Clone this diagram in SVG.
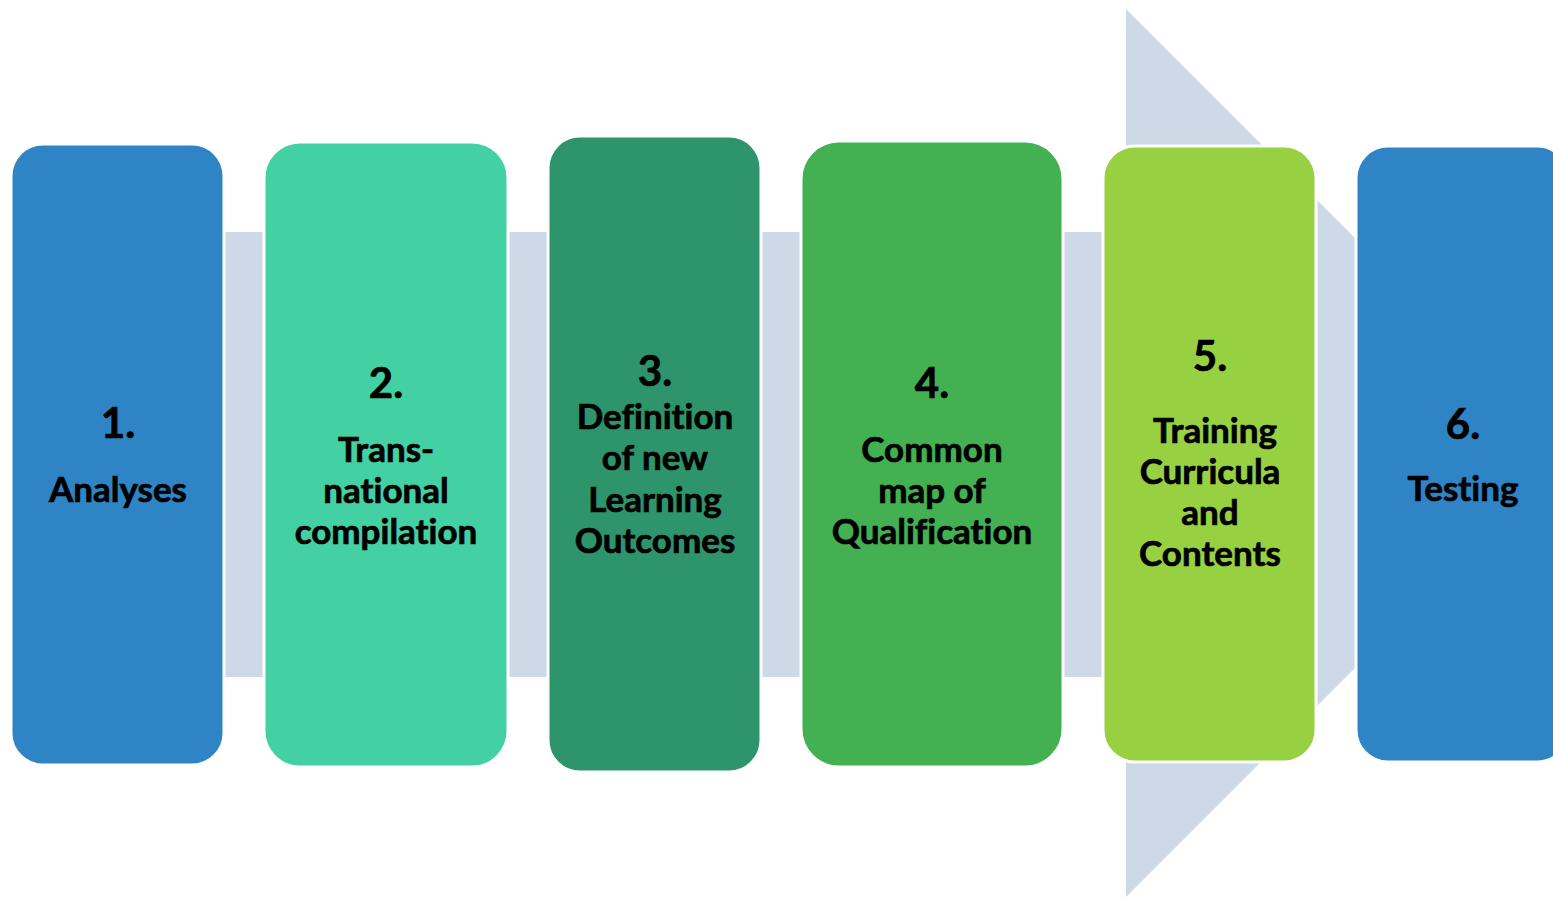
<svg xmlns="http://www.w3.org/2000/svg" width="1553" height="897" viewBox="0 0 1553 897">
<style>
.box{stroke:#ffffff;stroke-width:3}
.t{font-family:Lato,"Open Sans","Liberation Sans",sans-serif;font-weight:bold;fill:#000;stroke:#000;stroke-width:0.7;text-anchor:middle;font-variant-ligatures:none;font-feature-settings:"liga" 0,"clig" 0}
.n{font-size:42px}
.l{font-size:35px}
</style>
<rect width="1553" height="897" fill="#ffffff"/>
<g id="connectors">
<polygon points="30,232 1126,232 1126,9 1570,453 1126,897 1126,677 30,677" fill="#CED9E8"/>
</g>
<g id="node1">
<rect class="box" x="11" y="144" width="213" height="621" rx="32" fill="#2E84C4"/>
<text class="t n" x="118" y="438">1.</text>
<text class="t l" x="118" y="502">Analyses</text>
</g>
<g id="node2">
<rect class="box" x="264" y="142" width="244" height="625" rx="36" fill="#43D0A2"/>
<text class="t n" x="386" y="398">2.</text>
<text class="t l" x="386" y="462">Trans-</text>
<text class="t l" x="386" y="503">national</text>
<text class="t l" x="386" y="544">compilation</text>
</g>
<g id="node3">
<rect class="box" x="548" y="136" width="213" height="636" rx="32" fill="#2E946C"/>
<text class="t n" x="655" y="386">3.</text>
<text class="t l" x="655" y="429">Definition</text>
<text class="t l" x="655" y="470">of new</text>
<text class="t l" x="655" y="512">Learning</text>
<text class="t l" x="655" y="553">Outcomes</text>
</g>
<g id="node4">
<rect class="box" x="801" y="141" width="262" height="626" rx="38" fill="#43B052"/>
<text class="t n" x="932" y="398">4.</text>
<text class="t l" x="932" y="462">Common</text>
<text class="t l" x="932" y="503">map of</text>
<text class="t l" x="932" y="544">Qualification</text>
</g>
<g id="node5">
<rect class="box" x="1103" y="146" width="213" height="616" rx="32" fill="#97D142"/>
<text class="t n" x="1210" y="371">5.</text>
<text class="t l" x="1215" y="443">Training</text>
<text class="t l" x="1210" y="484">Curricula</text>
<text class="t l" x="1210" y="525">and</text>
<text class="t l" x="1210" y="566">Contents</text>
</g>
<g id="node6">
<rect class="box" x="1356" y="146" width="213" height="616" rx="32" fill="#2E84C4"/>
<text class="t n" x="1463" y="439">6.</text>
<text class="t l" x="1463" y="501">Testing</text>
</g>
</svg>
